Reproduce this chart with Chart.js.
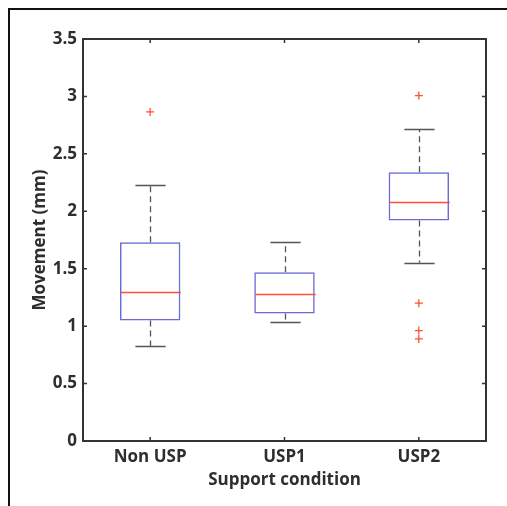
<!DOCTYPE html>
<html>
<head>
<meta charset="utf-8">
<script src="https://cdn.jsdelivr.net/npm/chart.js@4.4.0/dist/chart.umd.min.js"></script>
<style>
    html, body { margin: 0; padding: 0; background: #fff; }
    #wrap { position: relative; width: 507px; height: 506px; }
</style>
</head>
<body>
<div id="wrap"><canvas id="chart" width="507" height="506"></canvas></div>
<script>
// data
const categories = ['Non USP', 'USP1', 'USP2'];
const q1Values = [1.05, 1.11, 1.92];
const q3Values = [1.73, 1.47, 2.34];
const medians = [1.295, 1.278, 2.083];
const lowerWhiskers = [0.828, 1.04, 1.552];
const upperWhiskers = [2.23, 1.73, 2.717];
const outlierCats = ['Non USP', 'USP2', 'USP2', 'USP2', 'USP2'];
const outlierValues = [2.865, 3.007, 1.20, 0.961, 0.889];
const yTicks = [0, 0.5, 1, 1.5, 2, 2.5, 3, 3.5];

const BOX_BLUE = '#6a6ad8';
const MEDIAN_RED = '#ff5030';
const WHISKER_GREY = '#555555';
const AXIS_COLOR = '#333333';

// whiskers, medians, the closed box around the plot and the inward ticks
const boxplotExtras = {
    id: 'boxplotExtras',
    beforeDraw(chart) {
        // frame of the original figure crop
        const ctx = chart.ctx;
        ctx.save();
        ctx.strokeStyle = '#111';
        ctx.lineWidth = 2;
        ctx.beginPath();
        ctx.moveTo(9, 506);
        ctx.lineTo(9, 9);
        ctx.lineTo(507, 9);
        ctx.stroke();
        ctx.restore();
    },
    afterDatasetsDraw(chart) {
        const ctx = chart.ctx;
        const x = chart.scales.x;
        const y = chart.scales.y;
        const area = chart.chartArea;
        const boxMeta = chart.getDatasetMeta(0);

        ctx.save();
        categories.forEach((cat, i) => {
            const cx = Math.round(x.getPixelForValue(i)) + 0.5;
            const bar = boxMeta.data[i];
            const half = bar.width / 2;
            const capHalf = half / 2;

            // dashed whiskers
            ctx.strokeStyle = WHISKER_GREY;
            ctx.lineWidth = 1.3;
            ctx.setLineDash([6, 4]);
            ctx.beginPath();
            ctx.moveTo(cx, y.getPixelForValue(q3Values[i]));
            ctx.lineTo(cx, y.getPixelForValue(upperWhiskers[i]));
            ctx.moveTo(cx, y.getPixelForValue(q1Values[i]));
            ctx.lineTo(cx, y.getPixelForValue(lowerWhiskers[i]));
            ctx.stroke();

            // caps
            ctx.setLineDash([]);
            ctx.beginPath();
            const up = Math.round(y.getPixelForValue(upperWhiskers[i])) + 0.5;
            const lo = Math.round(y.getPixelForValue(lowerWhiskers[i])) + 0.5;
            ctx.moveTo(cx - capHalf, up);
            ctx.lineTo(cx + capHalf, up);
            ctx.moveTo(cx - capHalf, lo);
            ctx.lineTo(cx + capHalf, lo);
            ctx.stroke();

            // median
            ctx.strokeStyle = MEDIAN_RED;
            ctx.lineWidth = 1.3;
            const my = Math.round(y.getPixelForValue(medians[i])) + 0.5;
            ctx.beginPath();
            ctx.moveTo(cx - half, my);
            ctx.lineTo(cx + half, my);
            ctx.stroke();
        });

        // box on: top and right edges
        ctx.strokeStyle = AXIS_COLOR;
        ctx.lineWidth = 2;
        ctx.beginPath();
        ctx.moveTo(area.left, area.top);
        ctx.lineTo(area.right, area.top);
        ctx.lineTo(area.right, area.bottom);
        ctx.stroke();

        // inward ticks
        ctx.lineWidth = 1.5;
        ctx.beginPath();
        yTicks.forEach(v => {
            const py = y.getPixelForValue(v);
            ctx.moveTo(area.left, py);
            ctx.lineTo(area.left + 4, py);
            ctx.moveTo(area.right, py);
            ctx.lineTo(area.right - 4, py);
        });
        categories.forEach((cat, i) => {
            const px = x.getPixelForValue(i);
            ctx.moveTo(px, area.bottom);
            ctx.lineTo(px, area.bottom - 4);
            ctx.moveTo(px, area.top);
            ctx.lineTo(px, area.top + 4);
        });
        ctx.stroke();
        ctx.restore();
    }
};

const labelFont = { family: 'Open Sans', size: 17, weight: 'bold' };

new Chart(document.getElementById('chart'), {
    type: 'bar',
    data: {
        labels: categories,
        datasets: [{
            label: 'IQR',
            data: q1Values.map((q1, i) => [q1, q3Values[i]]),
            backgroundColor: 'rgba(0,0,0,0)',
            borderColor: BOX_BLUE,
            borderWidth: 1.5,
            borderSkipped: false,
            barPercentage: 0.45,
            categoryPercentage: 1
        }, {
            type: 'line',
            label: 'Outliers',
            data: outlierCats.map((c, i) => ({ x: c, y: outlierValues[i] })),
            showLine: false,
            pointStyle: 'cross',
            pointRadius: 4,
            pointBorderWidth: 1.3,
            borderColor: MEDIAN_RED,
            backgroundColor: MEDIAN_RED
        }]
    },
    options: {
        responsive: false,
        animation: false,
        layout: { padding: { left: 18, top: 39, right: 21, bottom: 16 } },
        plugins: {
            legend: { display: false },
            tooltip: { enabled: false }
        },
        scales: {
            x: {
                offset: true,
                grid: { display: false, drawTicks: false },
                border: { display: true, color: AXIS_COLOR, width: 2 },
                ticks: { color: '#2e2e2e', font: labelFont, padding: 6 },
                title: {
                    display: true,
                    text: 'Support condition',
                    color: '#2e2e2e',
                    font: labelFont,
                    padding: { top: 0, bottom: 0 }
                },
                afterFit(scale) { scale.height = 49; }
            },
            y: {
                min: 0,
                max: 3.5,
                grid: { display: false, drawTicks: false },
                border: { display: true, color: AXIS_COLOR, width: 2 },
                ticks: {
                    color: '#2e2e2e',
                    font: labelFont,
                    padding: 6,
                    stepSize: 0.5,
                    callback: v => String(v)
                },
                afterBuildTicks(scale) {
                    scale.ticks = yTicks.map(v => ({ value: v }));
                },
                title: {
                    display: true,
                    text: 'Movement (mm)',
                    color: '#2e2e2e',
                    font: labelFont,
                    padding: { top: 12, bottom: 0 }
                },
                afterFit(scale) { scale.width = 65; }
            }
        }
    },
    plugins: [boxplotExtras]
});
</script>
</body>
</html>
